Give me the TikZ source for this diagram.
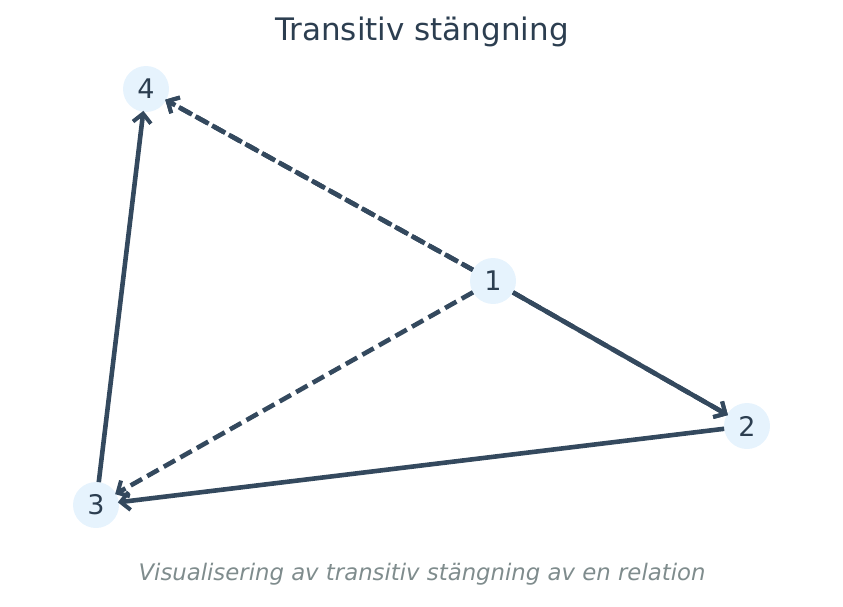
\documentclass[tikz,border=0pt]{standalone}
\usepackage{fontspec}
\setmainfont{DejaVu Sans}
\usetikzlibrary{arrows.meta}
\definecolor{edgecol}{HTML}{34495E}
\definecolor{titlecol}{HTML}{2C3E50}
\definecolor{notecol}{HTML}{7F8C8D}
\definecolor{nodefill}{HTML}{E6F3FD}
\tikzset{
  vertex/.style={circle,fill=nodefill,draw=none,minimum size=46pt,inner sep=0pt,outer sep=0pt,text=titlecol,font=\fontsize{27}{27}\selectfont},
  rel/.style={draw=edgecol,line width=4.6pt,-{Straight Barb[length=9pt,width=18pt,line width=4pt]}},
  closure/.style={rel,dash pattern=on 13pt off 6pt}
}
\begin{document}
\begin{tikzpicture}[x=1pt,y=-1pt]
\useasboundingbox (0,0) rectangle (843,607);
\node[text=titlecol,font=\fontsize{31}{31}\selectfont] (title) at (422,32) {Transitiv stängning};
\node[text=notecol,font=\fontsize{22.8}{22.8}\selectfont\itshape] (note) at (422,574) {Visualisering av transitiv stängning av en relation};
\foreach \n/\x/\y in {1/493/281,2/747/426,3/96/505,4/146/89}{%
    \node[vertex] (n\n) at (\x,\y) {\n};
}
\begin{scope}[shorten >=-1pt]
    \draw[closure] (n1) -- (n2);
    \draw[closure] (n1) -- (n3);
    \draw[closure] (n1) -- (n4);
    \draw[closure,dash phase=2pt] (n1) -- (n4);
    \draw[rel] (n1) -- (n2);
    \draw[rel] (n2) -- (n3);
    \draw[rel] (n3) -- (n4);
\end{scope}
\end{tikzpicture}
\end{document}
